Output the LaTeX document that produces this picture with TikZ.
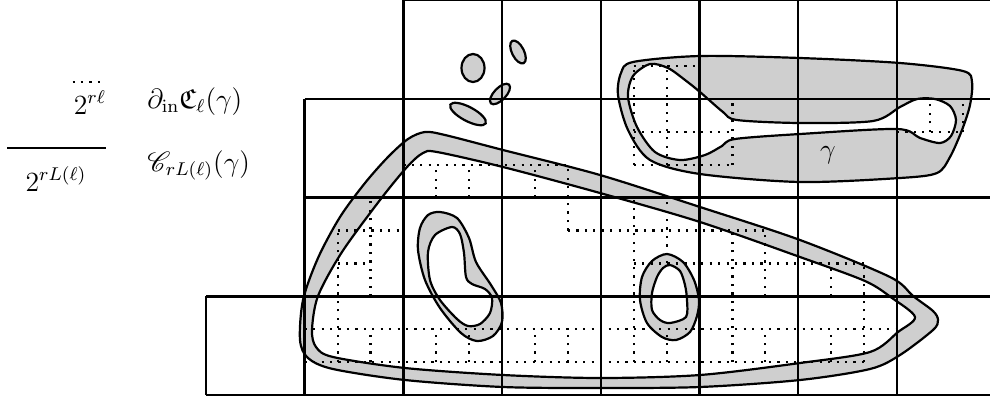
\documentclass[tikz,border=0pt]{standalone}
\usepackage{amssymb}
\usepackage{mathrsfs}
\begin{document}
\begin{tikzpicture}[x=0.0151976cm, y=-0.0151976cm,
  gridl/.style={line width=1.05pt},
  dotl/.style={line width=0.95pt, dash pattern=on 0.95pt off 2.7pt},
  band/.style={fill=black!19, even odd rule, draw=black, line width=0.95pt},
  lbl/.style={inner sep=0pt, font=\large}]
\useasboundingbox (0,0) rectangle (990,403);
\clip (0,0) rectangle (990,403);

% big loop
\path[band] plot[smooth cycle] coordinates {(300,340) (303,300) (318,258) (340,217) (365,183) (388,157) (408,139) (425,132) (445,135) (503,150) (600,175) (700,207) (800,240) (890,277) (913,296) (933,311) (938,320) (933,330) (900,355) (870,369) (800,380) (700,387) (600,388) (503,387) (405,380) (333,369) (308,358)}
  plot[smooth cycle] coordinates {(312,330) (318,296) (342,252) (380,200) (407,167) (423,153) (437,152) (503,167) (600,193) (700,222) (800,257) (865,281) (892,298) (915,317) (898,332) (870,352) (800,363) (700,375) (600,378) (503,375) (405,368) (333,357) (316,347)};
% small loop 1
\path[band] plot[smooth cycle] coordinates {(440,212) (457,218) (469,238) (476,262) (491,285) (501,303) (502,322) (493,336) (477,341) (461,333) (440,308) (425,280) (418,250) (420,228) (428,215)}
  plot[smooth cycle] coordinates {(452,227) (460,234) (464,253) (466,277) (472,284) (485,289) (492,298) (490,313) (480,324) (468,326) (457,319) (440,300) (430,280) (428,252) (435,235)};
% small loop 2
\path[band] plot[smooth cycle] coordinates {(667,254) (683,262) (694,280) (699,300) (697,316) (690,332) (676,340) (662,337) (647,323) (640,300) (642,277) (652,261)}
  plot[smooth cycle] coordinates {(670,265) (680,271) (685,285) (687,300) (686,317) (670,323) (660,320) (652,310) (652,293) (657,277) (663,268)};
% top-right loop
\path[band] plot[smooth cycle] coordinates {(633,62) (700,56) (800,58) (900,63) (963,71) (972,82) (970,105) (962,130) (950,157) (937,173) (900,178) (800,182) (700,174) (650,160) (628,130) (618,95) (621,73)}
  plot[smooth cycle] coordinates {(650,64) (668,68) (685,80) (700,92) (723,112) (737,120) (800,123) (873,121) (900,107) (917,99) (935,99) (950,106) (956,120) (951,136) (940,143) (920,138) (897,129) (800,134) (735,139) (722,146) (705,155) (680,160) (655,152) (637,127) (628,97) (633,76)};
% blobs
\path[band] (473,68) ellipse [x radius=11.5, y radius=14];
\path[band, rotate around={-63:(518,52)}] (518,52) ellipse [x radius=12.5, y radius=6];
\path[band, rotate around={46:(500,94)}] (500,94) ellipse [x radius=13, y radius=6];
\path[band, rotate around={-28:(468,114)}] (468,114) ellipse [x radius=20, y radius=7];

\begin{scope}[shift={(206,395)}, x=0.5cm, y=0.5cm]
% dotted fine grid
\foreach \a/\b/\c/\d in {6/7/11/7, 4/5/6/5, 11/5/17/5, 4/4/5/4, 13/4/20/4, 3/2/21/2, 3/1/20/1,
  4/1/4/5, 5/3/5/6, 5/1/5/2, 7/6/7/7, 7/1/7/2, 8/6/8/7, 8/1/8/2, 10/6/10/7, 10/1/10/2,
  11/5/11/7, 11/1/11/2, 13/1/13/6, 14/4/14/6, 14/1/14/2, 16/1/16/5, 17/3/17/5, 17/1/17/2,
  19/3/19/4, 19/1/19/2, 20/1/20/4,
  13/10/15/10, 13/8/16/8, 13/7/16/7, 21/8/23/8,
  13/7/13/10, 14/7/14/10, 16/7/16/9, 22/8/22/9, 23/8/23/9}
  \draw[dotl] (\a,\b) -- (\c,\d);
% solid coarse grid
\draw[gridl] (0,0) -- (24,0) (0,3) -- (24,3) (3,6) -- (24,6) (3,9) -- (24,9) (6,12) -- (24,12);
\draw[gridl] (0,0) -- (0,3) (3,0) -- (3,9);
\foreach \k in {6,9,...,21} \draw[gridl] (\k,0) -- (\k,12.5);
\end{scope}

% legend
\coordinate (d1) at (72.5,82);
\coordinate (d2) at (105,82);
\coordinate (s1) at (7,148);
\coordinate (s2) at (106,148);
\draw[dotl] (d1) -- (d2);
\draw[gridl] (s1) -- (s2);
\node[lbl, anchor=base] (t1) at (90,114) {$2^{r\ell}$};
\node[lbl, anchor=base] (t2) at (56,191) {$2^{rL(\ell)}$};
\node[lbl, anchor=base west] (t3) at (147,108) {$\partial_{\mathrm{in}}\mathfrak{C}_\ell(\gamma)$};
\node[lbl, anchor=base west] (t4) at (147,171) {$\mathscr{C}_{rL(\ell)}(\gamma)$};
\node[lbl] (g) at (828,155) {$\gamma$};
\end{tikzpicture}
\end{document}
